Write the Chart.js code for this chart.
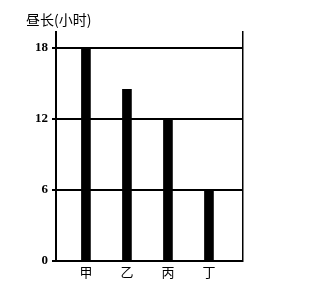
<!DOCTYPE html>
<html>
<head>
<meta charset="utf-8">
<script src="https://cdn.jsdelivr.net/npm/chart.js@4"></script>
<style>
  html, body { margin: 0; padding: 0; background: #fff; }
  #wrap { width: 324px; height: 283px; }
</style>
</head>
<body>
<div id="wrap"><canvas id="myChart" width="324" height="283"></canvas></div>
<script>
const categories = ["甲", "乙", "丙", "丁"];
const dayLength = [18, 14.5, 12, 6];
const yTicks = [0, 6, 12, 18];
const yTitle = "昼长(小时)";

// bars sit on a linear x axis so their spacing can match the picture
const points = dayLength.map((v, i) => ({ x: i + 1, y: v }));

const titlePlugin = {
  id: "yTitle",
  afterDraw(chart) {
    let ctx = chart.ctx;
    ctx.save();
    ctx.fillStyle = "#000";
    ctx.font = "14px 'Noto Sans CJK SC'";
    ctx.textBaseline = "middle";
    ctx.textAlign = "left";
    ctx.fillText(yTitle, 26, 20);
    ctx.restore();
  },
};

new Chart("myChart", {
  type: "bar",
  data: {
    datasets: [
      {
        data: points,
        backgroundColor: "#000",
        borderWidth: 0,
        barThickness: 9,
      },
    ],
  },
  options: {
    responsive: false,
    animation: false,
    layout: { padding: { top: 32, right: 81, left: 0, bottom: 0 } },
    plugins: { legend: { display: false }, tooltip: { enabled: false } },
    scales: {
      x: {
        type: "linear",
        offset: false,
        min: 0.27,
        max: 4.83,
        afterBuildTicks: (s) => {
          s.ticks = categories.map((c, i) => ({ value: i + 1 }));
        },
        afterFit: (s) => {
          s.height = 22;
        },
        grid: { display: false, drawTicks: false },
        border: { display: false },
        ticks: {
          color: "#000",
          padding: 3,
          font: { family: "Noto Sans CJK SC", size: 13 },
          callback: (v) => categories[v - 1],
        },
      },
      y: {
        min: 0,
        max: 19.35,
        afterBuildTicks: (s) => {
          s.ticks = yTicks.map((v) => ({ value: v }));
        },
        afterFit: (s) => {
          s.width = 56;
        },
        grid: { color: "#000", lineWidth: 2, tickLength: 4 },
        border: { display: true, color: "#000", width: 2 },
        ticks: {
          color: "#000",
          padding: 4,
          font: { family: "Liberation Serif", size: 13, weight: "bold" },
        },
      },
      y2: {
        position: "right",
        min: 0,
        max: 19.35,
        afterFit: (s) => {
          s.width = 0;
        },
        grid: { display: false },
        border: { display: true, color: "#000", width: 1.5 },
        ticks: { display: false },
      },
    },
  },
  plugins: [titlePlugin],
});
</script>
</body>
</html>
